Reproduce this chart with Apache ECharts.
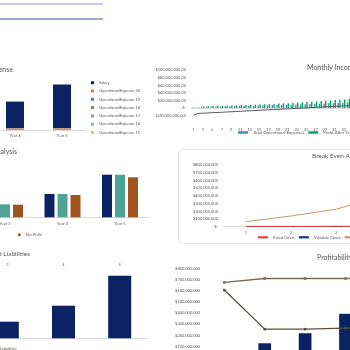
<!DOCTYPE html>
<html>
<head>
    <meta charset="utf-8">
    <title>Financial Dashboard</title>
    <script src="https://cdn.jsdelivr.net/npm/echarts@6.0.0/dist/echarts.min.js"></script>
    <style>
        html, body { margin: 0; padding: 0; background: #fff; }
        #dash { width: 350px; height: 350px; }
    </style>
</head>
<body>
<div id="dash"></div>
<script type="text/javascript">
    // ---- data ----
    var years = ['Year 1', 'Year 2', 'Year 3', 'Year 4', 'Year 5'];
    var salary = [900000, 1300000, 1900000, 2650000, 4350000];
    var opex20 = [20000, 20000, 20000, 20000, 20000];
    var opex19 = [20000, 20000, 20000, 20000, 20000];
    var opex18 = [90000, 100000, 110000, 120000, 130000];
    var opex17 = [10000, 10000, 10000, 10000, 10000];
    var opex16 = [10000, 10000, 10000, 10000, 10000];
    var opex15 = [10000, 10000, 10000, 10000, 10000];

    var months = ['1', '2', '3', '4', '5', '6', '7', '8', '9', '10', '11', '12',
        '13', '14', '15', '16', '17', '18', '19', '20', '21', '22', '23', '24',
        '25', '26', '27', '28', '29', '30', '31', '32', '33', '34', '35', '36'];
    var monthlyOpex = [1.5, 1.8, 3.5, 3.8, 4.0, 4.3, 4.5, 4.8, 5.0, 5.3, 5.5, 5.8,
        6.0, 6.3, 6.6, 6.9, 7.2, 7.5, 7.8, 8.2, 8.6, 9.0, 9.4, 9.8,
        10.2, 10.6, 11.0, 11.5, 12.0, 12.5, 13.0, 13.5, 14.0, 14.5, 15.0, 15.5];
    var monthlyProfit = [1.0, 1.5, 4.5, 5.0, 5.2, 5.8, 6.0, 6.5, 7.0, 7.2, 7.8, 8.0,
        8.5, 9.0, 9.6, 10.0, 10.5, 11.0, 11.8, 12.5, 13.0, 13.8, 14.5, 15.2,
        16.0, 16.8, 17.5, 18.4, 19.2, 20.0, 21.0, 22.0, 23.0, 24.0, 25.0, 26.0];
    var cumulativeCash = [-19.0, -14.0, -13.5, -12.9, -12.2, -11.6, -11.0, -10.3, -9.7, -9.0, -8.4, -7.8,
        -7.1, -6.5, -5.8, -5.2, -4.6, -3.9, -3.3, -2.6, -2.0, -1.4, -0.7, -0.1,
        0.6, 1.2, 1.8, 2.5, 3.1, 3.8, 4.4, 5.0, 5.7, 6.3, 7.0, 7.6];

    var revenueByYear = [4.1, 7.6, 13.0, 23.3, 42.6];
    var grossByYear = [4.0, 7.4, 13.0, 23.3, 42.6];
    var netByYear = [3.6, 7.0, 12.6, 22.3, 40.0];

    var units = ['1', '2', '3', '4', '5'];
    var fixedCosts = [4000000, 4000000, 4000000, 4000000, 4000000];
    var variableCosts = [2000000, 2000000, 3000000, 3000000, 4000000];
    var beRevenue = [65000000, 139000000, 226000000, 400000000, 760000000];

    var liabYears = ['1', '2', '3', '4', '5'];
    var liabilities = [4.0, 9.5, 16.6, 32.6, 62.6];

    var profYears = ['1', '2', '3', '4', '5'];
    var profRevenue = [678000000, 714000000, 714000000, 714000000, 714000000];
    var profCosts = [609000000, 255000000, 255000000, 264000000, 270000000];
    var profNet = [30000000, 127000000, 218000000, 394000000, 620000000];

    var grey = '#595959';
    var navy = '#0b2263';

    function money(v, dec) {
        if (v === 0) return '$-';
        var s = Math.abs(v).toFixed(dec);
        var parts = s.split('.');
        parts[0] = parts[0].replace(/\B(?=(\d{3})+(?!\d))/g, ',');
        s = parts.join('.');
        return v < 0 ? '$(' + s + ')' : '$' + s;
    }

    var small = { fontSize: 4, color: grey, lineHeight: 4 };
    var ttl = { fontSize: 7, color: grey, fontWeight: 'normal' };

    var myChart = echarts.init(document.getElementById('dash'));
    myChart.setOption({
        animation: false,
        textStyle: { fontFamily: 'Lato' },
        title: [
            { text: 'Operational Expense', right: 337, top: 66, padding: 0, textStyle: ttl },
            { text: 'Monthly Income Statement', left: 307, top: 64, padding: 0, textStyle: ttl },
            { text: 'Profit Analysis', right: 333, top: 148, padding: 0, textStyle: ttl },
            { text: 'Break Even Analysis', left: 312, top: 152.5, padding: 0, textStyle: { fontSize: 6.5, color: grey, fontWeight: 'normal' } },
            { text: 'Assets and Liabilities', right: 320, top: 250, padding: 0, textStyle: { fontSize: 6.5, color: grey, fontWeight: 'normal' } },
            { text: 'Profitability', left: 317, top: 254.5, padding: 0, textStyle: ttl }
        ],
        legend: [
            {
                orient: 'vertical', left: 91, top: 80.7, padding: 0, height: 200,
                itemWidth: 3, itemHeight: 3, itemGap: 4.3, icon: 'rect', textStyle: small,
                data: ['Salary', 'OperationalExpense 20', 'OperationalExpense 19', 'OperationalExpense 18',
                    'OperationalExpense 17', 'OperationalExpense 16', 'OperationalExpense 15']
            },
            {
                left: 238, top: 130.5, padding: 0, width: 400, itemWidth: 10, itemHeight: 2.5, itemGap: 4,
                icon: 'rect', textStyle: { fontSize: 4.3, color: grey },
                data: ['Total Operational Expenses', 'Profit After Tax', 'Cumulative Cash Flow']
            },
            {
                left: 18, top: 232.8, padding: 0, itemWidth: 2.7, itemHeight: 2.7,
                icon: 'rect', textStyle: { fontSize: 3.8, color: grey }, data: ['Net Profit']
            },
            {
                left: 258, top: 235.3, padding: 0, width: 400, itemWidth: 10, itemHeight: 2.2, itemGap: 4,
                icon: 'rect', textStyle: { fontSize: 4.3, color: grey },
                data: ['Fixed Costs', 'Variable Costs', 'Revenue']
            },
            {
                left: -17, top: 347, padding: 0, itemWidth: 2.7, itemHeight: 2.7,
                icon: 'rect', textStyle: { fontSize: 4, color: grey }, data: ['Total Liabilities']
            }
        ],
        grid: [
            { left: -149.5, top: 70, width: 235, height: 60, outerBoundsMode: 'none', containLabel: false },
            { left: 191, top: 70, width: 169.2, height: 45.7, outerBoundsMode: 'none', containLabel: false },
            { left: -138.75, top: 157.3, width: 287.5, height: 60, outerBoundsMode: 'none', containLabel: false },
            { left: 223.5, top: 165, width: 225, height: 61.7, outerBoundsMode: 'none', containLabel: false },
            { left: -133.2, top: 268.3, width: 281, height: 70, outerBoundsMode: 'none', containLabel: false },
            { left: 204.1, top: 269, width: 202, height: 88.3, outerBoundsMode: 'none', containLabel: false }
        ],
        xAxis: [
            { gridIndex: 0, type: 'category', data: years, axisTick: { show: false },
                axisLine: { lineStyle: { color: '#d9d9d9' } }, axisLabel: Object.assign({ margin: 3.5 }, small) },
            { gridIndex: 1, type: 'category', data: months, axisTick: { show: false },
                axisLine: { onZero: true, lineStyle: { color: '#dcdcdc' } },
                axisLabel: Object.assign({ margin: 11.8, interval: 1 }, small) },
            { gridIndex: 2, type: 'category', data: years, axisTick: { show: false },
                axisLine: { lineStyle: { color: '#d9d9d9' } }, axisLabel: Object.assign({ margin: 4 }, small) },
            { gridIndex: 3, type: 'category', data: units, axisTick: { show: false },
                axisLine: { lineStyle: { color: '#d9d9d9' } }, axisLabel: Object.assign({ margin: 4.5 }, small) },
            { gridIndex: 4, type: 'category', data: liabYears, position: 'top', axisTick: { show: false },
                axisLine: { show: false }, axisLabel: Object.assign({ margin: 1.5 }, small) },
            { gridIndex: 4, type: 'category', data: liabYears, position: 'bottom', axisTick: { show: false },
                axisLine: { lineStyle: { color: '#d9d9d9' } }, axisLabel: { show: false } },
            { gridIndex: 5, type: 'category', data: profYears, show: false }
        ],
        yAxis: [
            { gridIndex: 0, type: 'value', min: 0, max: 6000000, show: false },
            { gridIndex: 1, type: 'value', min: -20, max: 100, interval: 20,
                splitLine: { show: false }, axisLine: { show: false }, axisTick: { show: false },
                axisLabel: Object.assign({ margin: 5, formatter: function (v) { return money(v * 1000000, 2); } }, small) },
            { gridIndex: 2, type: 'value', min: 0, max: 60, show: false },
            { gridIndex: 3, type: 'value', min: 0, max: 800000000, interval: 100000000,
                splitLine: { show: false }, axisLine: { show: false }, axisTick: { show: false },
                axisLabel: Object.assign({ margin: 5.5, formatter: function (v) { return money(v, 0); } }, small) },
            { gridIndex: 4, type: 'value', min: 0, max: 70, show: false },
            { gridIndex: 5, type: 'value', min: 0, max: 800000000, interval: 100000000,
                splitLine: { show: false }, axisLine: { show: false }, axisTick: { show: false },
                axisLabel: Object.assign({ margin: 4, formatter: function (v) { return money(v, 0); } }, small) }
        ],
        series: [
            // operational expense stack
            { name: 'OperationalExpense 15', type: 'bar', stack: 'exp', xAxisIndex: 0, yAxisIndex: 0, barWidth: 18, data: opex15, itemStyle: { color: '#f2c85b' } },
            { name: 'OperationalExpense 16', type: 'bar', stack: 'exp', xAxisIndex: 0, yAxisIndex: 0, data: opex16, itemStyle: { color: '#6cc5c5' } },
            { name: 'OperationalExpense 17', type: 'bar', stack: 'exp', xAxisIndex: 0, yAxisIndex: 0, data: opex17, itemStyle: { color: '#b67fbf' } },
            { name: 'OperationalExpense 18', type: 'bar', stack: 'exp', xAxisIndex: 0, yAxisIndex: 0, data: opex18, itemStyle: { color: '#9c7a54' } },
            { name: 'OperationalExpense 19', type: 'bar', stack: 'exp', xAxisIndex: 0, yAxisIndex: 0, data: opex19, itemStyle: { color: '#3e8fb0' } },
            { name: 'OperationalExpense 20', type: 'bar', stack: 'exp', xAxisIndex: 0, yAxisIndex: 0, data: opex20, itemStyle: { color: '#ed7d31' } },
            { name: 'Salary', type: 'bar', stack: 'exp', xAxisIndex: 0, yAxisIndex: 0, data: salary, itemStyle: { color: navy } },

            // monthly income
            { name: 'Total Operational Expenses', type: 'bar', xAxisIndex: 1, yAxisIndex: 1, barWidth: 1.4, barGap: '30%', data: monthlyOpex, itemStyle: { color: '#3d8fb3' } },
            { name: 'Profit After Tax', type: 'bar', xAxisIndex: 1, yAxisIndex: 1, barWidth: 1.4, data: monthlyProfit, itemStyle: { color: '#00a860' } },
            { name: 'Cumulative Cash Flow', type: 'line', xAxisIndex: 1, yAxisIndex: 1, data: cumulativeCash, showSymbol: false,
                lineStyle: { color: '#595959', width: 1 }, itemStyle: { color: '#595959' } },

            // profit analysis
            { name: 'Revenue ', type: 'bar', xAxisIndex: 2, yAxisIndex: 2, barWidth: 10, barGap: '30%', data: revenueByYear, itemStyle: { color: navy } },
            { name: 'Gross Profit', type: 'bar', xAxisIndex: 2, yAxisIndex: 2, barWidth: 10, data: grossByYear, itemStyle: { color: '#4ea394' } },
            { name: 'Net Profit', type: 'bar', xAxisIndex: 2, yAxisIndex: 2, barWidth: 10, data: netByYear, itemStyle: { color: '#a0521f' } },

            // break even
            { name: 'Revenue', type: 'line', xAxisIndex: 3, yAxisIndex: 3, data: beRevenue, showSymbol: false,
                lineStyle: { color: '#c9956b', width: 1 }, itemStyle: { color: '#c9956b' } },
            { name: 'Variable Costs', type: 'line', xAxisIndex: 3, yAxisIndex: 3, data: variableCosts, showSymbol: false,
                lineStyle: { color: '#14306e', width: 1 }, itemStyle: { color: '#14306e' } },
            { name: 'Fixed Costs', type: 'line', xAxisIndex: 3, yAxisIndex: 3, data: fixedCosts, showSymbol: false,
                lineStyle: { color: '#e8413a', width: 1 }, itemStyle: { color: '#e8413a' } },

            // liabilities
            { name: 'Total Liabilities', type: 'bar', xAxisIndex: 4, yAxisIndex: 4, barWidth: 23, data: liabilities, itemStyle: { color: navy } },

            // profitability
            { name: 'Net Income', type: 'bar', xAxisIndex: 6, yAxisIndex: 5, barWidth: 12.7, data: profNet, itemStyle: { color: navy } },
            { name: 'Total Revenue', type: 'line', xAxisIndex: 6, yAxisIndex: 5, data: profRevenue, symbol: 'rect', symbolSize: 2.5,
                lineStyle: { color: '#7a6a56', width: 1.3 }, itemStyle: { color: '#7a6a56' } },
            { name: 'Total Costs', type: 'line', xAxisIndex: 6, yAxisIndex: 5, data: profCosts, symbol: 'rect', symbolSize: 2.5,
                lineStyle: { color: '#5a4e3e', width: 1.3 }, itemStyle: { color: '#5a4e3e' } }
        ],
        graphic: [
            { type: 'line', shape: { x1: 0, y1: 4, x2: 103, y2: 4 }, style: { stroke: '#b4b4e0', lineWidth: 1.3 } },
            { type: 'line', shape: { x1: 0, y1: 19, x2: 103, y2: 19 }, style: { stroke: '#a4a4d4', lineWidth: 2 } },
            { type: 'rect', shape: { x: 178.5, y: 149.5, width: 200, height: 94, r: 4 },
                style: { fill: 'none', stroke: '#e6e6e6', lineWidth: 1 }, z: -1 }
        ]
    });
</script>
</body>
</html>
